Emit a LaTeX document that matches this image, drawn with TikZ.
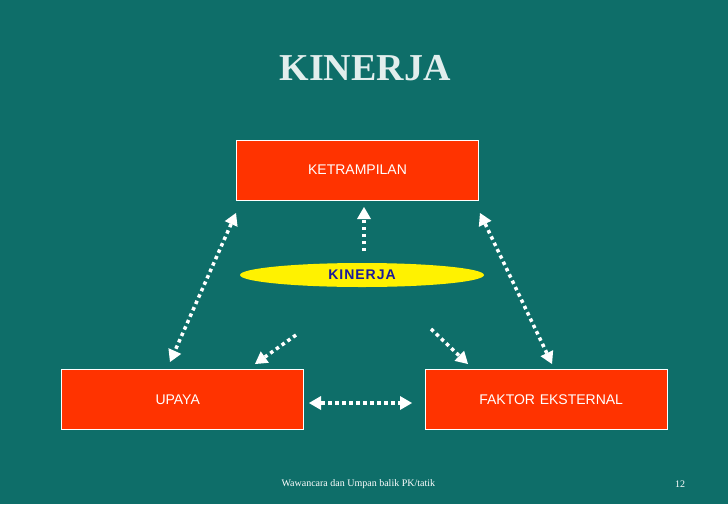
\documentclass[tikz,border=0pt]{standalone}
\usepackage{fontspec}
\setsansfont{Liberation Sans}
\setmainfont{Liberation Serif}
\usetikzlibrary{arrows.meta,shapes.geometric}
\definecolor{bg}{HTML}{0E6E69}
\definecolor{boxred}{HTML}{FF3300}
\definecolor{kblue}{HTML}{1A1A9A}
\tikzset{
 box/.style={draw=white,line width=0.8pt,fill=boxred,minimum width=242pt,minimum height=60pt,inner sep=0pt,font=\sffamily\fontsize{14}{16}\selectfont,text=white},
 arr/.style={draw=white,line width=3.5pt,dash pattern=on 3.5pt off 3.5pt,-{Triangle[length=12pt,width=14pt,line width=0pt]}},
 darr/.style={arr,{Triangle[length=12pt,width=14pt,line width=0pt]}-{Triangle[length=12pt,width=14pt,line width=0pt]}}
}
\begin{document}
\begin{tikzpicture}[x=1pt,y=-1pt]
\fill[bg] (0,0) rectangle (728,504);
\useasboundingbox (0,0) rectangle (728,504);
\node (title) [text=white!88!bg,font=\rmfamily\bfseries\fontsize{38}{40}\selectfont] at (365,68) {KINERJA};
\node (ket) [box] at (357.5,170) {KETRAMPILAN};
\node (upa) [box,text width=242pt,align=left] at (182.5,399.5) {\hspace*{94pt}UPAYA};
\node (fak) [box,text width=242pt,align=right] at (546,399.5) {FAKTOR EKSTERNAL\hspace*{44pt}};
\node (kin) [ellipse,fill=yellow,minimum width=244pt,minimum height=24pt,inner sep=0pt,text=kblue,font=\sffamily\bfseries\fontsize{14}{16}\selectfont] at (362,275) {\raisebox{-4pt}{K\kern1pt I\kern1pt N\kern1pt E\kern1pt R\kern1pt J\kern1pt A}};
\coordinate (a1) at (364,251); \coordinate (a2) at (364,207);
\draw[arr] (a1) -- (a2);
\coordinate (b1) at (236,213); \coordinate (b2) at (170,362);
\draw[darr] (b1) -- (b2);
\coordinate (c1) at (480,213); \coordinate (c2) at (552,364);
\draw[darr] (c1) -- (c2);
\coordinate (d1) at (296,335); \coordinate (d2) at (255,364);
\draw[arr] (d1) -- (d2);
\coordinate (e1) at (431,329); \coordinate (e2) at (468,364);
\draw[arr] (e1) -- (e2);
\coordinate (f1) at (309,403); \coordinate (f2) at (412,403);
\draw[darr] (f1) -- (f2);
\node (foot) [text=white,font=\rmfamily\fontsize{10}{12}\selectfont,anchor=west] at (278,484) {Wawancara dan Umpan balik PK/tatik};
\node (num) [text=white,font=\rmfamily\fontsize{10}{12}\selectfont] at (680,484) {12};
\end{tikzpicture}
\end{document}
